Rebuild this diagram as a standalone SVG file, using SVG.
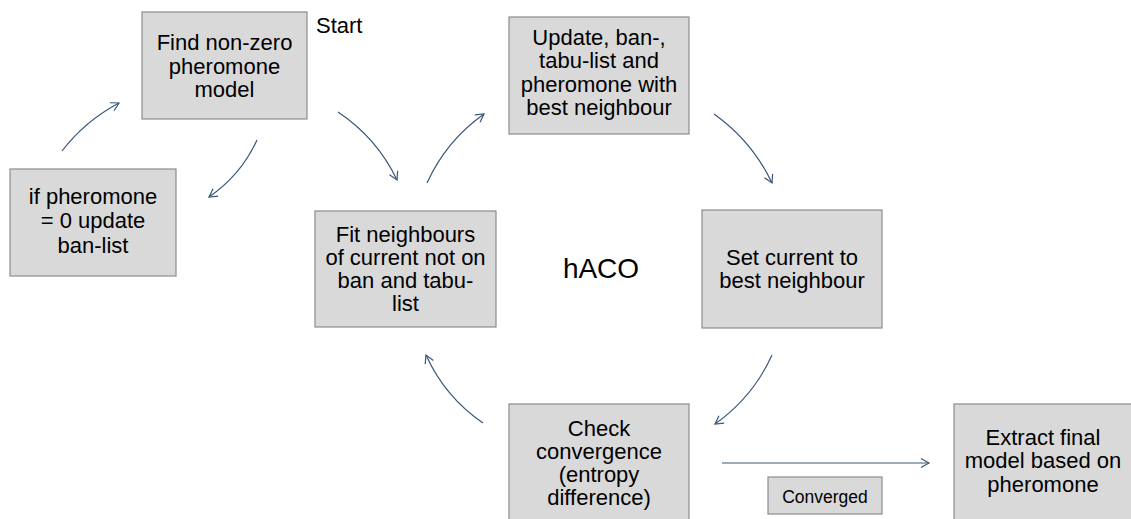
<svg xmlns="http://www.w3.org/2000/svg" width="1131" height="519" viewBox="0 0 1131 519">
<style>
.box{fill:#d9d9d9;stroke:#8c8c8c;stroke-width:1.2}
.t{font-family:"Liberation Sans",Arial,sans-serif;font-size:22px;fill:#000;text-anchor:middle}
.con{fill:none;stroke:#3b5677;stroke-width:1.2;marker-end:url(#ah)}
</style>
<defs>
<marker id="ah" viewBox="-10 -6 12 12" refX="0" refY="0" markerWidth="12" markerHeight="12" markerUnits="userSpaceOnUse" orient="auto">
<path d="M-8,-4.5 L0,0 L-8,4.5" fill="none" stroke="#3b5677" stroke-width="1.2"/>
</marker>
</defs>
<rect width="1131" height="519" fill="#ffffff"/>
<g id="find">
<rect class="box" x="142" y="12" width="165" height="107"/>
<text class="t" x="224.5" y="50">Find non-zero</text>
<text class="t" x="224.5" y="73.5">pheromone</text>
<text class="t" x="224.5" y="97">model</text>
</g>
<text id="start" x="316" y="33" style="font-family:'Liberation Sans',Arial,sans-serif;font-size:22px">Start</text>
<g id="update">
<rect class="box" x="509" y="17" width="180" height="117"/>
<text class="t" x="599" y="45">Update, ban-,</text>
<text class="t" x="599" y="68.3">tabu-list and</text>
<text class="t" x="599" y="91.7">pheromone with</text>
<text class="t" x="599" y="115">best neighbour</text>
</g>
<g id="ifph">
<rect class="box" x="10" y="169" width="166" height="107"/>
<text class="t" x="93" y="204.3">if pheromone</text>
<text class="t" x="93" y="228.3">= 0 update</text>
<text class="t" x="93" y="252.5">ban-list</text>
</g>
<g id="fit">
<rect class="box" x="315" y="211" width="181" height="116"/>
<text class="t" x="405.5" y="241.7">Fit neighbours</text>
<text class="t" x="405.5" y="265">of current not on</text>
<text class="t" x="405.5" y="288.3">ban and tabu-</text>
<text class="t" x="405.5" y="310.7">list</text>
</g>
<g id="set">
<rect class="box" x="702" y="210" width="180" height="118"/>
<text class="t" x="792" y="265">Set current to</text>
<text class="t" x="792" y="287.5">best neighbour</text>
</g>
<g id="check">
<rect class="box" x="509" y="404" width="180" height="130"/>
<text class="t" x="599" y="436">Check</text>
<text class="t" x="599" y="458.5">convergence</text>
<text class="t" x="599" y="481.7">(entropy</text>
<text class="t" x="599" y="505">difference)</text>
</g>
<g id="extract">
<rect class="box" x="954" y="404" width="180" height="130"/>
<text class="t" x="1043" y="445">Extract final</text>
<text class="t" x="1043" y="468.3">model based on</text>
<text class="t" x="1043" y="491.7">pheromone</text>
</g>
<text id="haco" x="601" y="278" style="font-family:'Liberation Sans',Arial,sans-serif;font-size:28px;text-anchor:middle">hACO</text>
<g id="connectors">
<path class="con" d="M62,151 Q85,121 119,103"/>
<path class="con" d="M257,140 Q241,175 209,197"/>
<path class="con" d="M338,112 Q377,138 397,180"/>
<path class="con" d="M427,183 Q446,141 484,114"/>
<path class="con" d="M714,114 Q752,141 772,183"/>
<path class="con" d="M772,355 Q753,397 715,424"/>
<path class="con" d="M483,423 Q445,397 426,355"/>
<path class="con" d="M722,463 L929,463"/>
</g>
<g id="converged">
<rect class="box" x="768" y="477" width="114" height="37"/>
<text x="825" y="503" style="font-family:'Liberation Sans',Arial,sans-serif;font-size:17.5px;text-anchor:middle">Converged</text>
</g>
</svg>
